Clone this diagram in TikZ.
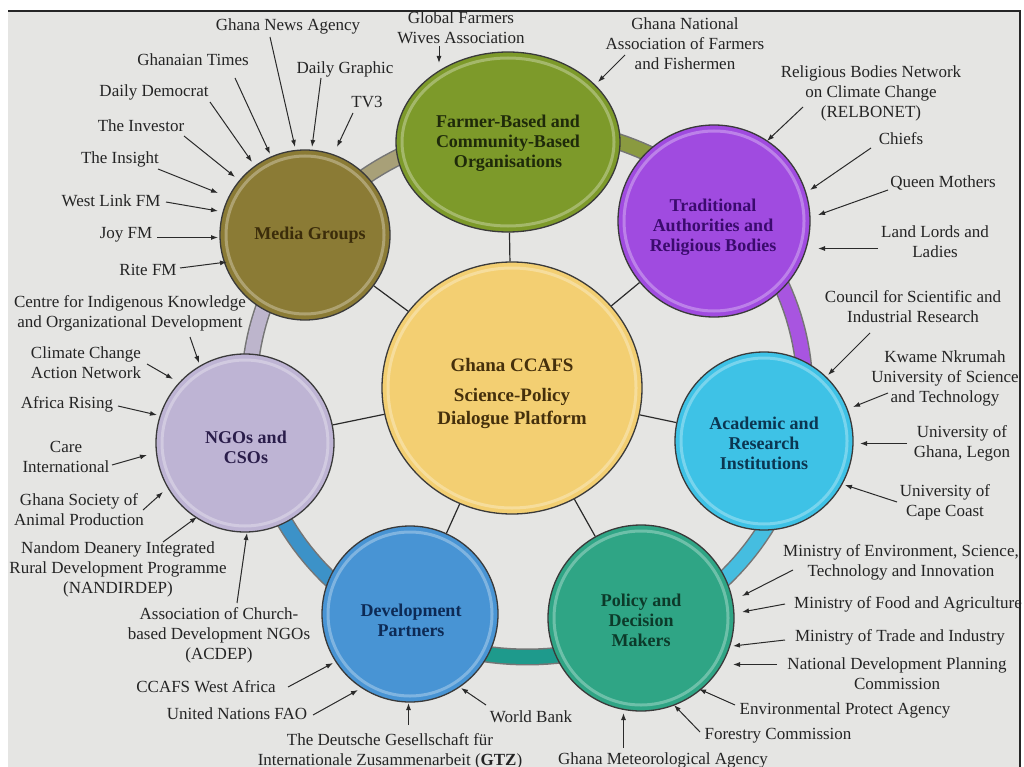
\documentclass[tikz,border=0pt]{standalone}
\usepackage{fontspec}
\setmainfont{Liberation Serif}
\usetikzlibrary{shapes.geometric,arrows.meta}
\definecolor{slide}{HTML}{E5E5E3}
\definecolor{labtext}{HTML}{242424}
\definecolor{arrcol}{HTML}{2A2A2A}
\definecolor{rim}{HTML}{3A3A3A}
\definecolor{cCenter}{HTML}{F3CF72}
\definecolor{tCenter}{HTML}{45300C}
\definecolor{cFarm}{HTML}{7D9A2A}
\definecolor{tFarm}{HTML}{1F2A0A}
\definecolor{cMedia}{HTML}{8B7B35}
\definecolor{tMedia}{HTML}{3B2C0A}
\definecolor{cTrad}{HTML}{A04BE0}
\definecolor{tTrad}{HTML}{3B0B6E}
\definecolor{cAcad}{HTML}{3EC2E6}
\definecolor{tAcad}{HTML}{0B3550}
\definecolor{cPol}{HTML}{2FA585}
\definecolor{tPol}{HTML}{0C3A2A}
\definecolor{cDev}{HTML}{4894D4}
\definecolor{tDev}{HTML}{0D2A55}
\definecolor{cNgo}{HTML}{BEB4D4}
\definecolor{tNgo}{HTML}{2A1D4A}
\definecolor{rNgoMedia}{HTML}{BDB5CC}
\definecolor{rMediaFarm}{HTML}{A8A078}
\definecolor{rFarmTrad}{HTML}{8A9A40}
\definecolor{rTradAcad}{HTML}{A855E0}
\definecolor{rAcadPol}{HTML}{45BDE0}
\definecolor{rPolDev}{HTML}{1E9A8C}
\definecolor{rDevNgo}{HTML}{3C92C8}
\tikzset{
  lab/.style={font=\fontsize{17}{20}\selectfont, align=center, text=labtext, inner sep=0pt},
  arr/.style={draw=arrcol, line width=1pt, -{Latex[length=7pt,width=5pt]}},
  bubble/.style={circle, draw=rim, line width=1.3pt, inner sep=0pt},
  btext/.style={font=\fontsize{18}{20}\selectfont\bfseries, align=center, inner sep=0pt},
  spoke/.style={draw=arrcol, line width=1.2pt},
  gloss/.style={draw=white, opacity=0.3, line width=3pt}
}
\newcommand{\feed}[8]{%
  \node[lab] (#1) at (#2,#3) {#4};
  \coordinate (#1-s) at (#5,#6);
  \coordinate (#1-e) at (#7,#8);
  \draw[arr] (#1-s) -- (#1-e);}
\newcommand{\ringseg}[3]{%
  \draw[line width=17pt, draw=rim!70] plot[domain=#1:#2, samples=30] ({527+278*cos(\x)},{392+265*sin(\x)});
  \draw[line width=14pt, draw=#3] plot[domain=#1:#2, samples=30] ({527+278*cos(\x)},{392+265*sin(\x)});}
\begin{document}
\begin{tikzpicture}[x=1pt,y=-1pt]
\useasboundingbox (0,0) rectangle (1024,767);
\fill[white] (0,0) rectangle (1024,767);
\fill[slide] (8,11) rectangle (1020,767);
\draw[black!85, line width=2pt] (8,11) -- (1020,11) -- (1020,767);

% ring
\ringseg{170}{215}{rNgoMedia}
\ringseg{215}{266}{rMediaFarm}
\ringseg{266}{317}{rFarmTrad}
\ringseg{317}{372}{rTradAcad}
\ringseg{12}{63}{rAcadPol}
\ringseg{63}{118}{rPolDev}
\ringseg{118}{170}{rDevNgo}

% circles
\node[ellipse, draw=rim, line width=1.3pt, inner sep=0pt, fill=cCenter, minimum width=260pt, minimum height=252pt] (hub) at (512,388) {};
\node[ellipse, draw=rim, line width=1.3pt, inner sep=0pt, fill=cFarm, minimum width=224pt, minimum height=180pt] (farm) at (508,142) {};
\node[bubble, fill=cMedia, minimum size=170pt] (media) at (305,235) {};
\node[bubble, fill=cTrad, minimum size=192pt] (trad) at (714,221) {};
\node[bubble, fill=cAcad, minimum size=178pt] (acad) at (764,441) {};
\node[bubble, fill=cPol, minimum size=186pt] (pol) at (641,618) {};
\node[bubble, fill=cDev, minimum size=176pt] (dev) at (410,614) {};
\node[bubble, fill=cNgo, minimum size=178pt] (ngo) at (245,443) {};

% gloss rings
\draw[gloss] (hub.center) circle[x radius=124, y radius=120];
\draw[gloss] (farm.center) circle[x radius=106, y radius=84];
\draw[gloss] (media.center) circle[radius=79];
\draw[gloss] (trad.center) circle[radius=90];
\draw[gloss] (acad.center) circle[radius=83];
\draw[gloss] (pol.center) circle[radius=87];
\draw[gloss] (dev.center) circle[radius=82];
\draw[gloss] (ngo.center) circle[radius=83];

% spokes
\foreach \n in {farm,media,trad,acad,pol,dev,ngo} \draw[spoke] (hub) -- (\n);

% circle texts
\node[btext, font=\fontsize{19}{23}\selectfont\bfseries, text=tCenter] (hub-t) at (512,394) {Ghana CCAFS\\[7pt]Science-Policy\\Dialogue Platform};
\node[btext, text=tFarm] (farm-t) at (508,143) {Farmer-Based and\\Community-Based\\Organisations};
\node[btext, text=tMedia] (media-t) at (310,235) {Media Groups};
\node[btext, text=tTrad] (trad-t) at (713,227) {Traditional\\Authorities and\\Religious Bodies};
\node[btext, text=tAcad] (acad-t) at (764,443) {Academic and\\Research\\Institutions};
\node[btext, text=tPol] (pol-t) at (641,620) {Policy and\\Decision\\Makers};
\node[btext, text=tDev] (dev-t) at (411,620) {Development\\Partners};
\node[btext, text=tNgo] (ngo-t) at (246,447) {NGOs and\\CSOs};

% media feeders
\feed{gna}{288}{26}{Ghana News Agency}{270}{37}{295}{147}
\feed{gt}{193}{60}{Ghanaian Times}{235}{78}{270}{154}
\feed{dg}{345}{69}{Daily Graphic}{321}{78}{312}{147}
\feed{tvthree}{367}{102}{TV3}{353}{113}{337}{147}
\feed{dd}{154}{92}{Daily Democrat}{210}{102}{252}{162}
\feed{inv}{141}{126}{The Investor}{184}{136}{235}{177}
\feed{ins}{120}{159}{The Insight}{158}{169}{218}{193}
\feed{wl}{111}{201}{West Link FM}{166}{202}{218}{211}
\feed{joy}{126}{235}{Joy FM}{157}{237.5}{218}{237.5}
\feed{rite}{148}{270}{Rite FM}{180}{268}{227}{262}

% farmer feeders
\feed{gfwa}{461}{28}{Global Farmers\\Wives Association}{439}{46}{439}{63}
\feed{gnaff}{685}{44}{Ghana National\\Association of Farmers\\and Fishermen}{625}{55}{598}{82}

% traditional feeders
\feed{rel}{871}{93}{Religious Bodies Network\\on Climate Change\\(RELBONET)}{803}{107}{767}{141}
\feed{chiefs}{901}{139}{Chiefs}{871}{148}{810}{190}
\feed{qm}{943}{183}{Queen Mothers}{888}{190}{818}{215}
\feed{ll}{935}{242}{Land Lords and\\Ladies}{878}{248.5}{818}{248.5}

% academic feeders
\feed{csir}{913}{307}{Council for Scientific and\\Industrial Research}{870}{333}{828}{375}
\feed{knust}{945}{378}{Kwame Nkrumah\\University of Science\\and Technology}{888}{393}{853}{407}
\feed{ug}{962}{443}{University of\\Ghana, Legon}{907}{443.5}{860}{443.5}
\feed{ucc}{945}{502}{University of\\Cape Coast}{897}{502}{845}{485}

% policy feeders
\feed{mesti}{901}{562}{Ministry of Environment, Science,\\Technology and Innovation}{793}{570}{742}{596}
\feed{mofa}{908}{604}{Ministry of Food and Agriculture}{785}{604}{742}{612}
\feed{moti}{900}{637}{Ministry of Trade and Industry}{785}{640}{733}{646}
\feed{ndpc}{897}{674}{National Development Planning\\Commission}{777}{664.5}{733}{664.5}
\feed{epa}{845}{710}{Environmental Protect Agency}{735}{705}{699}{689}
\feed{fc}{778}{736}{Forestry Commission}{700}{732}{674}{705}
\feed{gmet}{663}{760}{Ghana Meteorological Agency}{623.5}{748}{623.5}{713}

% development feeders
\feed{ccafs}{206}{687}{CCAFS West Africa}{288}{687}{333}{663}
\feed{fao}{237}{714}{United Nations FAO}{313}{715}{358}{690}
\feed{gtz}{390}{751}{The Deutsche Gesellschaft für\\Internationale Zusammenarbeit (\textbf{GTZ})}{408.5}{725}{408.5}{703}
\feed{wb}{531}{717}{World Bank}{486}{705}{461}{688}

% ngo feeders
\feed{cikod}{130}{313}{Centre for Indigenous Knowledge\\and Organizational Development}{190}{337}{199}{363}
\feed{ccan}{86}{363}{Climate Change\\Action Network}{147}{364}{173}{379}
\feed{ar}{67}{404}{Africa Rising}{118}{406}{157}{415}
\feed{care}{66}{457}{Care\\International}{112}{465}{147}{455}
\feed{gsap}{79}{510}{Ghana Society of\\Animal Production}{143}{510}{163}{492}
\feed{nand}{118}{569}{Nandom Deanery Integrated\\Rural Development Programme\\(NANDIRDEP)}{163}{542}{197}{517}
\feed{acdep}{219}{635}{Association of Church-\\based Development NGOs\\(ACDEP)}{237}{603}{247}{533}
\end{tikzpicture}
\end{document}
